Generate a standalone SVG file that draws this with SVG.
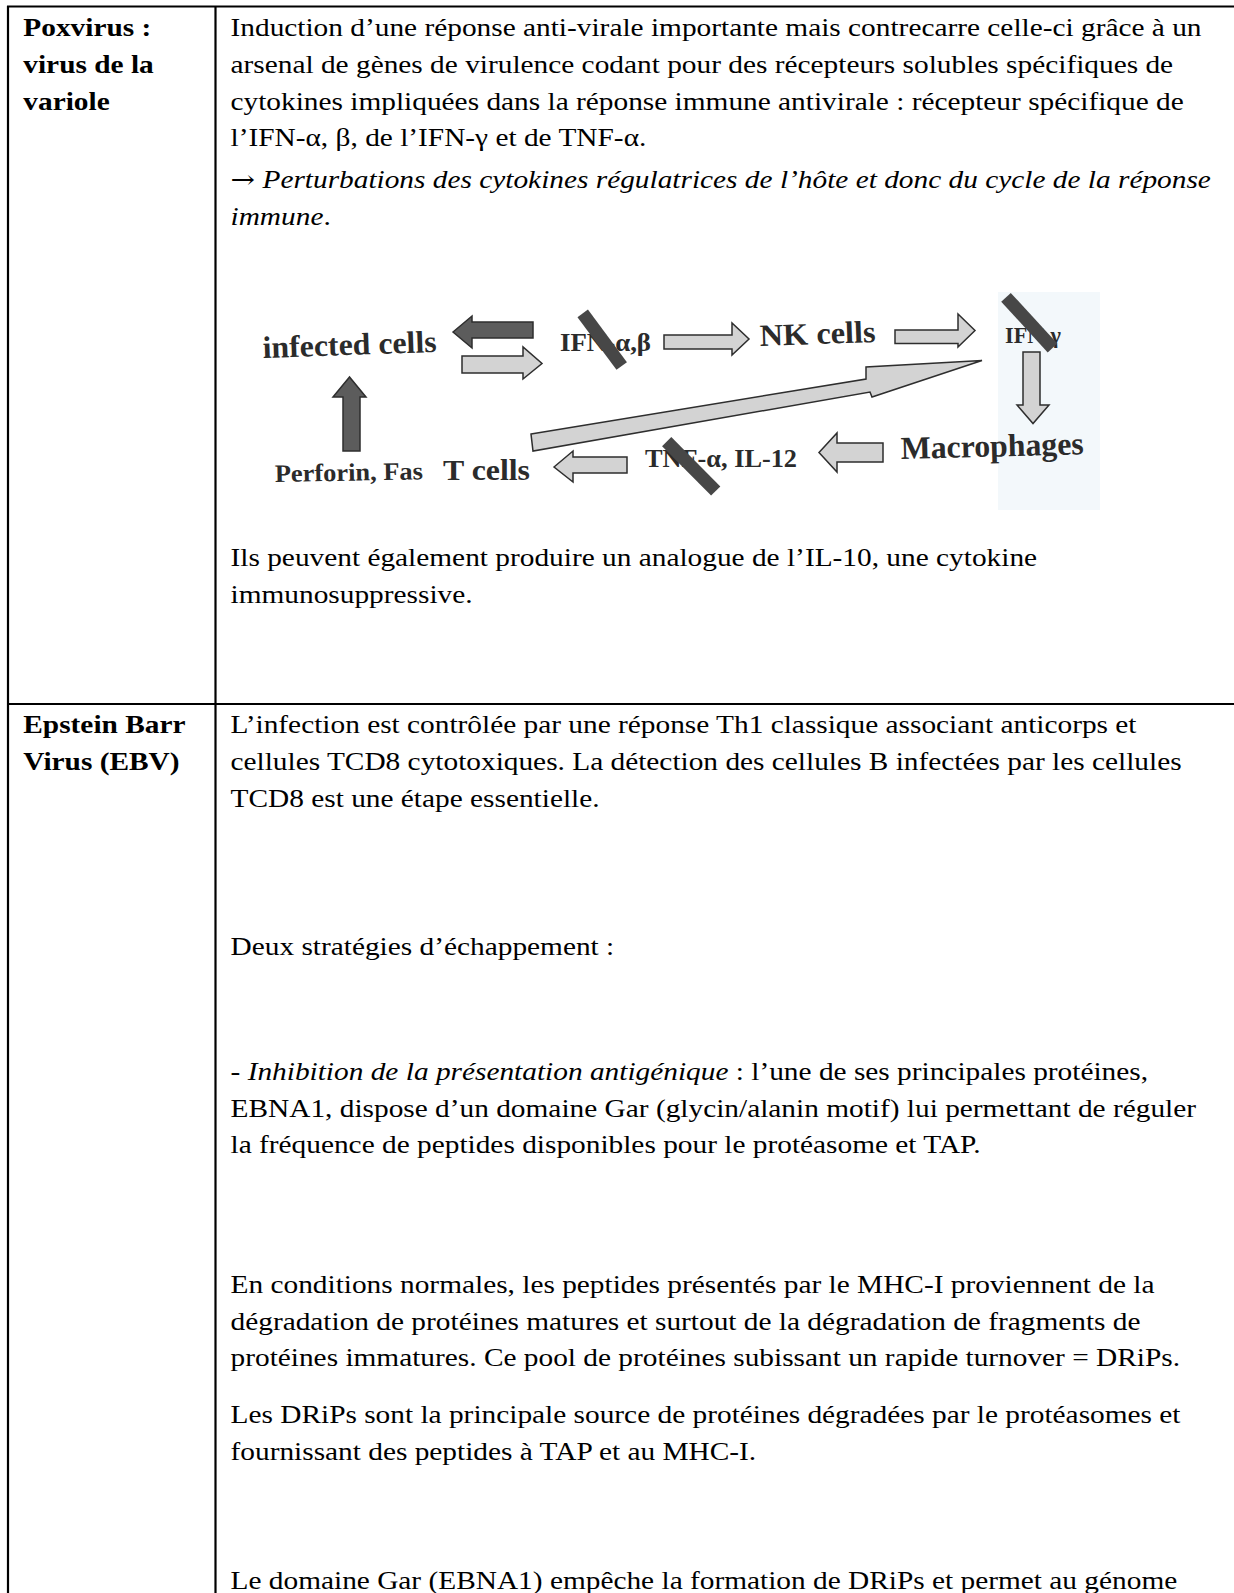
<svg xmlns="http://www.w3.org/2000/svg" width="1234" height="1593" viewBox="0 0 1234 1593">
<style>
.t{font-family:"Liberation Serif","Times New Roman",serif;font-size:24.8px;fill:#000}
.b{font-weight:bold}
.i{font-style:italic}
.arr{font-family:"DejaVu Serif",serif}
.lbl{font-family:"Liberation Serif","Times New Roman",serif;font-weight:bold;fill:#2b2b2b}
.dark{fill:#5c5c5c;stroke:#2e2e2e;stroke-width:1.5;stroke-linejoin:miter}
.light{fill:#d3d3d3;stroke:#2e2e2e;stroke-width:1.5;stroke-linejoin:miter}
.bar{stroke:#474747;stroke-width:13;stroke-linecap:butt}
.rule{stroke:#000;stroke-width:2.2;fill:none}
</style>
<rect width="1234" height="1593" fill="#fff"/>
<g id="table">
<line class="rule" x1="7" y1="6.5" x2="1234" y2="6.5"/>
<line class="rule" x1="8" y1="6" x2="8" y2="1593"/>
<line class="rule" x1="215.5" y1="6" x2="215.5" y2="1593"/>
<line class="rule" x1="7" y1="704" x2="1234" y2="704"/>
</g>
<g id="text" transform="scale(1.184,1)">
<g class="t b">
<text x="19.68" y="36">Poxvirus :</text>
<text x="19.68" y="72.8">virus de la</text>
<text x="19.68" y="109.6">variole</text>
<text x="19.68" y="733.3">Epstein Barr</text>
<text x="19.68" y="770">Virus (EBV)</text>
</g>
<g class="t">
<text x="194.7" y="36">Induction d’une réponse anti-virale importante mais contrecarre celle-ci grâce à un</text>
<text x="194.7" y="72.8">arsenal de gènes de virulence codant pour des récepteurs solubles spécifiques de</text>
<text x="194.7" y="109.6">cytokines impliquées dans la réponse immune antivirale : récepteur spécifique de</text>
<text x="194.7" y="146.4">l’IFN-α, β, de l’IFN-γ et de TNF-α.</text>
<text x="194.7" y="188.5"><tspan class="arr">→</tspan> <tspan class="i">Perturbations des cytokines régulatrices de l’hôte et donc du cycle de la réponse</tspan></text>
<text x="194.7" y="225.2"><tspan class="i">immune</tspan>.</text>
<text x="194.7" y="566">Ils peuvent également produire un analogue de l’IL-10, une cytokine</text>
<text x="194.7" y="602.7">immunosuppressive.</text>
<text x="194.7" y="733.3">L’infection est contrôlée par une réponse Th1 classique associant anticorps et</text>
<text x="194.7" y="770">cellules TCD8 cytotoxiques. La détection des cellules B infectées par les cellules</text>
<text x="194.7" y="806.7">TCD8 est une étape essentielle.</text>
<text x="194.7" y="955">Deux stratégies d’échappement :</text>
<text x="194.7" y="1080">- <tspan class="i">Inhibition de la présentation antigénique</tspan> : l’une de ses principales protéines,</text>
<text x="194.7" y="1116.7">EBNA1, dispose d’un domaine Gar (glycin/alanin motif) lui permettant de réguler</text>
<text x="194.7" y="1153.4">la fréquence de peptides disponibles pour le protéasome et TAP.</text>
<text x="194.7" y="1293">En conditions normales, les peptides présentés par le MHC-I proviennent de la</text>
<text x="194.7" y="1329.7">dégradation de protéines matures et surtout de la dégradation de fragments de</text>
<text x="194.7" y="1366.4">protéines immatures. Ce pool de protéines subissant un rapide turnover = DRiPs.</text>
<text x="194.7" y="1423.2">Les DRiPs sont la principale source de protéines dégradées par le protéasomes et</text>
<text x="194.7" y="1459.9">fournissant des peptides à TAP et au MHC-I.</text>
<text x="194.7" y="1589">Le domaine Gar (EBNA1) empêche la formation de DRiPs et permet au génome</text>
</g>
</g>
<g id="figure">
<rect x="998" y="292" width="102" height="218" fill="#f3f8fb"/>
<g id="connectors">
<polygon class="dark" points="453,332 472,316 472,322 533,322 533,338 472,338 472,348"/>
<polygon class="light" points="462,356 523,356 523,347 542,363.5 523,379 523,373 462,373"/>
<polygon class="dark" points="349.5,377 333,397 343,397 343,451 360,451 360,397 366,397"/>
<polygon class="light" points="664,335 732,335 732,323 749,339 732,355 732,349 664,349"/>
<polygon class="light" points="895,330 958,330 958,314 975,330.5 958,347 958,343.5 895,343.5"/>
<polygon class="light" points="1023,352 1040,352 1040,405 1049,405 1033,423.5 1017,405 1023,405"/>
<polygon class="light" points="819,452.5 837,433 837,443 883,443 883,462 837,462 837,472"/>
<polygon class="light" points="554,467 573,451 573,457 627,457 627,473 573,473 573,482"/>
<polygon class="light" points="531,434 866,379 866,367 982,360.5 872,397 870,392 533,451"/>
</g>
<g id="node-infected-cells"><text class="lbl" x="263" y="358" font-size="31" textLength="174" lengthAdjust="spacingAndGlyphs" transform="rotate(-2 263 358)">infected cells</text></g>
<g id="node-ifn-ab">
<text class="lbl" x="560" y="351" font-size="26" textLength="91" lengthAdjust="spacingAndGlyphs">IFN-α,β</text>
<line class="bar" x1="582.7" y1="313.3" x2="621.7" y2="366"/>
</g>
<g id="node-nk-cells"><text class="lbl" x="760" y="346" font-size="31" textLength="116" lengthAdjust="spacingAndGlyphs" transform="rotate(-2 760 346)">NK cells</text></g>
<g id="node-ifn-g">
<text class="lbl" x="1005" y="343" font-size="24" textLength="56" lengthAdjust="spacingAndGlyphs">IFN-γ</text>
<line class="bar" x1="1006" y1="297.3" x2="1052.5" y2="348"/>
</g>
<g id="node-macrophages"><text class="lbl" x="901" y="459" font-size="32" textLength="183" lengthAdjust="spacingAndGlyphs" transform="rotate(-1.5 901 459)">Macrophages</text></g>
<g id="node-tnf">
<text class="lbl" x="645" y="467" font-size="26" textLength="152" lengthAdjust="spacingAndGlyphs">TNF-α, IL-12</text>
<line class="bar" x1="666.7" y1="441.7" x2="715.7" y2="491"/>
</g>
<g id="node-t-cells"><text class="lbl" x="443" y="480" font-size="30" textLength="87" lengthAdjust="spacingAndGlyphs">T cells</text></g>
<g id="node-perforin"><text class="lbl" x="275" y="482" font-size="25" textLength="148" lengthAdjust="spacingAndGlyphs" transform="rotate(-1 275 482)">Perforin, Fas</text></g>
</g>
</svg>
